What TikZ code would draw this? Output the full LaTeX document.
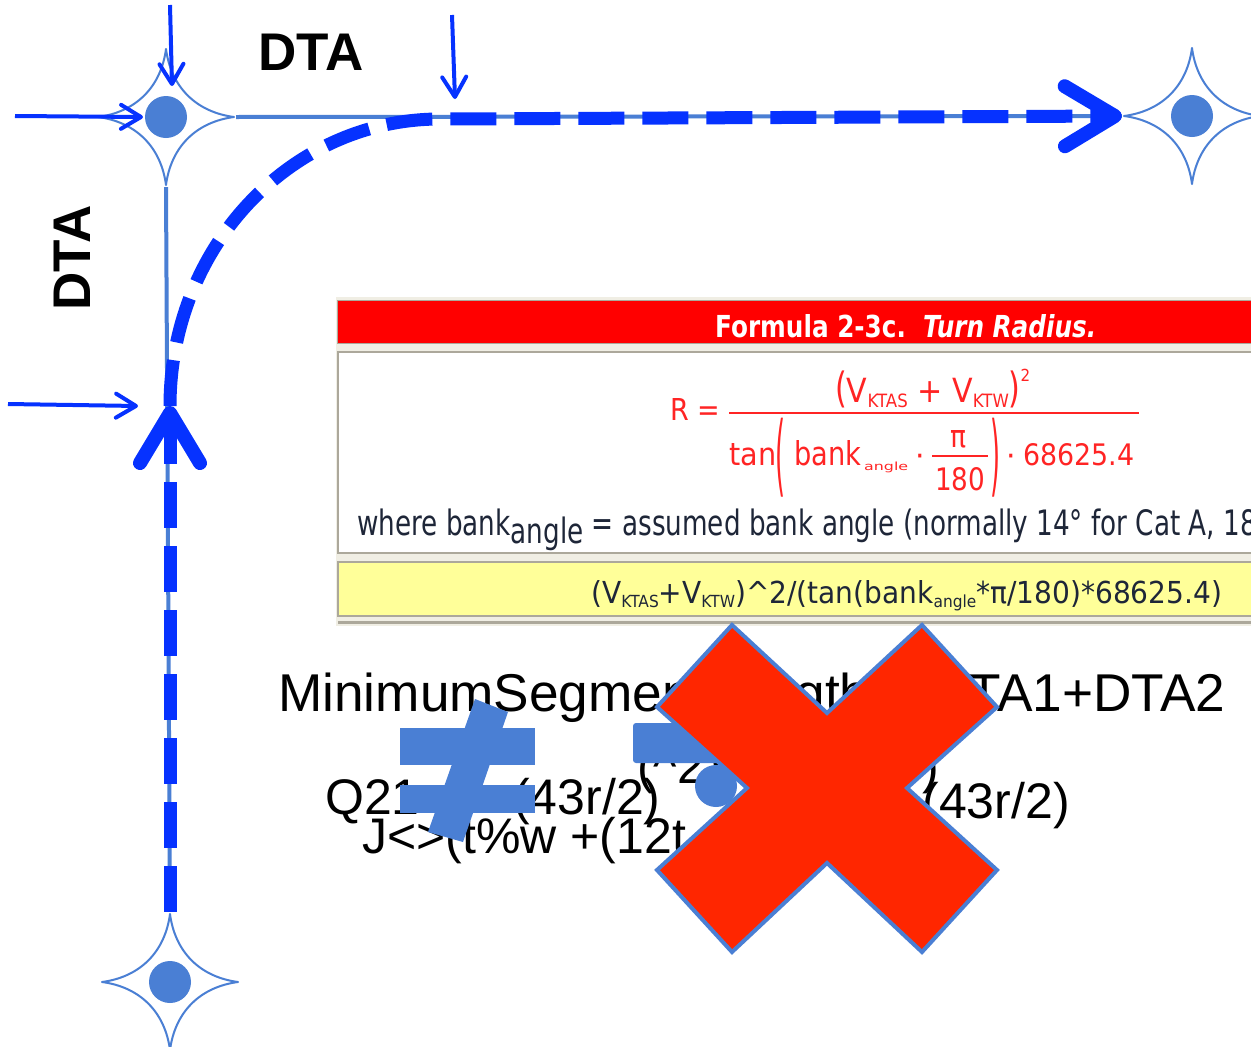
\documentclass[tikz,border=0pt]{standalone}
\usepackage{fontspec}
\usepackage{graphicx}
\setmainfont{Liberation Sans}
\newfontfamily\tah{DejaVu Sans}
\newfontfamily\arialf{Liberation Sans}
\usetikzlibrary{arrows.meta}

\definecolor{nodeblue}{RGB}{74,127,212}
\definecolor{pathblue}{RGB}{6,50,255}
\definecolor{crossred}{RGB}{255,38,0}
\definecolor{hdrred}{RGB}{255,0,0}
\definecolor{fmlred}{RGB}{255,36,36}
\definecolor{noteyel}{RGB}{255,255,153}
\definecolor{frameg}{RGB}{172,168,155}
\definecolor{framebg}{RGB}{240,238,228}
\definecolor{inktext}{RGB}{30,38,56}

% fit a piece of text to a given width and height (in pt)
\newcommand\fitto[3]{\resizebox{#1pt}{#2pt}{#3}}
% small lowered index
\newcommand\lo[1]{\raisebox{-0.16em}{\scalebox{0.55}{#1}}}

\tikzset{
  waypoint/.style={circle, minimum size=140pt, inner sep=0pt, path picture={
    \begin{scope}[shift={(path picture bounding box.center)}]
      \filldraw[fill=white, draw=nodeblue, line width=2pt, line join=round]
        (0,-68) .. controls (5,-30) and (30,-5) .. (68,0)
        .. controls (30,5) and (5,30) .. (0,68)
        .. controls (-5,30) and (-30,5) .. (-68,0)
        .. controls (-30,-5) and (-5,-30) .. cycle;
      \fill[nodeblue] (0,0) circle[radius=21];
    \end{scope}}},
  guide/.style={draw=nodeblue, line width=4pt},
  route/.style={draw=pathblue, line width=13pt, dash pattern=on 46pt off 18pt,
    -{Straight Barb[length=50pt, width=60pt, line width=14pt, round]}},
  pointer/.style={draw=pathblue, line width=4pt,
    -{Straight Barb[length=20pt, width=24pt, round]}},
  dtalabel/.style={inner sep=0pt, font={\arialf\bfseries\fontsize{53}{53}\selectfont}},
  formula/.style={inner sep=0pt, anchor=base west, text=fmlred, font={\tah\fontsize{30}{30}\selectfont}},
  garble/.style={inner sep=0pt, anchor=base west, font={\arialf\fontsize{50}{50}\selectfont}},
  crossmark/.style={fill=crossred, draw=nodeblue, line width=4pt, line join=miter},
}

\begin{document}
\begin{tikzpicture}[x=1pt, y=-1pt]
\useasboundingbox (0,0) rectangle (1251,1047);
\clip (0,0) rectangle (1251,1047);
\fill[white] (0,0) rectangle (1251,1047);

% ---------- turn radius formula panel ----------
\fill[framebg] (336,297) rectangle (1260,626);
\filldraw[fill=hdrred, draw=frameg, line width=1.5pt] (337.5,300.5) rectangle (1270,343.5);
\filldraw[fill=white, draw=frameg, line width=2.5pt] (338,352) rectangle (1270,553);
\filldraw[fill=noteyel, draw=frameg, line width=2.5pt] (338,562) rectangle (1270,616);
\draw[frameg, line width=2.5pt] (338,622.5) -- (1270,622.5);

\node[formula, text=white] (hdr) at (715,337)
  {\fitto{381}{23}{\bfseries Formula 2-3c.\ \ \textit{Turn Radius.}}};

\node[formula] (rlhs) at (670,420) {\fitto{50}{22}{R =}};
\draw[fmlred, line width=2pt] (729,413) -- (1139,413);
\node[formula] (rnum) at (835,402)
  {\fitto{195}{33}{\scalebox{1}[1.25]{(}V\lo{KTAS} + V\lo{KTW}\scalebox{1}[1.25]{)}\raisebox{0.62em}{\scalebox{0.5}{2}}}};
\node[formula] (dtan) at (729,465) {\fitto{47}{22}{tan}};
\node[formula, anchor=north west] (lpar) at (775,418)
  {\resizebox*{10pt}{79pt}{\fontsize{16}{16}\selectfont(}};
\node[formula] (dbank) at (794,465) {\fitto{67}{25}{bank}};
\node[formula] (dangle) at (864,470.5) {\fitto{44}{8.5}{angle}};
\node[formula, anchor=base] (ddot1) at (920,466) {·};
\node[formula] (dpi) at (950,447) {\fitto{16}{17}{π}};
\draw[fmlred, line width=1.5pt] (932,456) -- (988,456);
\node[formula] (d180) at (935,490) {\fitto{50}{23}{180}};
\node[formula, anchor=north west] (rpar) at (990,418)
  {\resizebox*{10pt}{79pt}{\fontsize{16}{16}\selectfont)}};
\node[formula, anchor=base] (ddot2) at (1011,466) {·};
\node[formula] (dconst) at (1023,465) {\fitto{111}{22}{68625.4}};

\node[formula, text=inktext, font={\tah\fontsize{35}{35}\selectfont}] (where) at (357,535)
  {\scalebox{0.75}[1]{where bank\raisebox{-8pt}{angle} = assumed bank angle (normally 14° for Cat A, 18}};

\node[formula, text=inktext] (excel) at (591,603)
  {\fitto{631}{23}{(V\lo{KTAS}+V\lo{KTW})\textasciicircum 2/(tan(bank\lo{angle}*π/180)*68625.4)}};

% ---------- waypoints and legs ----------
\node[waypoint] (s1) at (166,117) {};
\node[waypoint] (s2) at (1192,116) {};
\node[waypoint] (s3) at (170,982) {};

\draw[guide] (s1.east) -- (s2.west);
\draw[guide] (s1.south) -- (s3.north);

% flown path with the turn
\coordinate (turn) at (170,406);
\coordinate (bendend) at (440,119);
\draw[route] (s3.north) -- (turn);
\draw[route] (turn) .. controls (170,247) and (291,119) .. (bendend) -- (s2.west);

% DTA markers
\coordinate (p1s) at (15,116);  \coordinate (p1e) at (143,117);
\coordinate (p2s) at (170,5);   \coordinate (p2e) at (172,86);
\coordinate (p3s) at (452,15);  \coordinate (p3e) at (455,99);
\coordinate (p4s) at (8,404);   \coordinate (p4e) at (138,406);
\draw[pointer] (p1s) -- (p1e);
\draw[pointer] (p2s) -- (p2e);
\draw[pointer] (p3s) -- (p3e);
\draw[pointer] (p4s) -- (p4e);

\node[dtalabel] (dtaH) at (311,52) {DTA};
\node[dtalabel, rotate=90] (dtaV) at (72,258) {DTA};

% ---------- segment length expression ----------
\node[garble, font={\arialf\fontsize{53.2}{54}\selectfont}] (seg) at (278,711)
  {MinimumSegmentLength = DTA1+DTA2};
\node[garble] (gB1) at (637,783) {(\textasciicircum 2)};
\node[garble] (gB2) at (922,783) {)};
\node[garble] (gC1) at (325,814) {Q21};
\node[garble] (gC2) at (513,814) {(43r/2)};
\node[garble, anchor=base east] (gC3) at (1070,818) {(43r/2)};
\node[garble] (gD) at (362,853) {J<>(t\%w +(12t};

% not-equal sign
\fill[nodeblue] (400,728) rectangle (535,765);
\fill[nodeblue] (400,785) rectangle (535,813);
\fill[nodeblue] (475,699) -- (508,712) -- (463,842) -- (428,832) -- cycle;
% equal bar and dot
\fill[nodeblue, rounded corners=3pt] (633,723) rectangle (800,763);
\fill[nodeblue] (716,786) circle[radius=21];

% red cross
\draw[crossmark] (732,625) -- (827,713) -- (922,625) -- (997,707) -- (907,788)
  -- (997,870) -- (922,952) -- (827,863) -- (732,952) -- (657,870)
  -- (747,788) -- (657,707) -- cycle;
\end{tikzpicture}
\end{document}
